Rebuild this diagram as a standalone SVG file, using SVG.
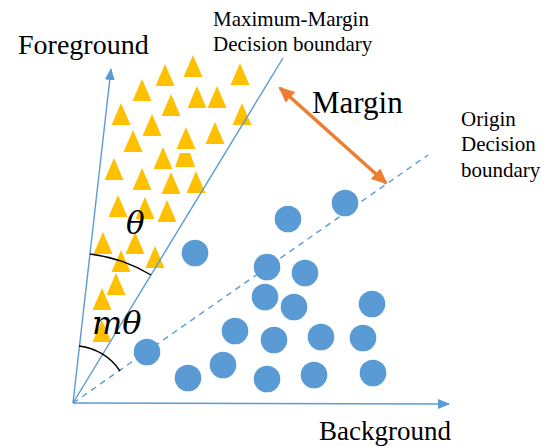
<svg xmlns="http://www.w3.org/2000/svg" width="545" height="447" viewBox="0 0 545 447">
<style>
.t{font-family:"Liberation Serif","Times New Roman",serif;fill:#000}
.ax{stroke:#5B9BD5;stroke-width:1.4;fill:none}
.tri{fill:#FFC000}
.dot{fill:#5B9BD5}
.arc{stroke:#000;stroke-width:1.4;fill:none}
.m{font-family:"DejaVu Serif","Liberation Serif",serif;font-style:italic;fill:#000}
</style>
<defs>
<path id="tr" d="M0,0 L9.5,22 L-9.5,22Z"/>
<marker id="ah" markerWidth="12" markerHeight="10" refX="11" refY="5" orient="auto" markerUnits="userSpaceOnUse"><path d="M0,0 L12,5 L0,10Z" fill="#5B9BD5"/></marker>
<marker id="oh" markerWidth="16" markerHeight="14" refX="14" refY="7" orient="auto-start-reverse" markerUnits="userSpaceOnUse"><path d="M0,0 L16,7 L0,14Z" fill="#ED7D31"/></marker>
</defs>
<rect width="545" height="447" fill="#fff"/>
<g id="triangles" class="tri">
<use href="#tr" x="193" y="55"/><use href="#tr" x="165" y="64"/><use href="#tr" x="240" y="63"/>
<use href="#tr" x="142" y="79"/><use href="#tr" x="197" y="86"/><use href="#tr" x="217" y="86"/>
<use href="#tr" x="171" y="94"/><use href="#tr" x="121" y="103"/><use href="#tr" x="242" y="103"/>
<use href="#tr" x="152" y="114"/><use href="#tr" x="133" y="130"/><use href="#tr" x="186" y="127"/>
<use href="#tr" x="215" y="122"/><use href="#tr" x="163" y="147"/><use href="#tr" x="114" y="158"/>
<use href="#tr" x="142" y="168"/><use href="#tr" x="171" y="172"/><use href="#tr" x="196" y="171"/>
<use href="#tr" x="118" y="195"/><use href="#tr" x="145" y="197"/><use href="#tr" x="167" y="200"/>
<use href="#tr" x="103" y="232"/><use href="#tr" x="135" y="232"/><use href="#tr" x="121" y="250"/>
<use href="#tr" x="155" y="246"/><use href="#tr" x="116" y="273"/><use href="#tr" x="102" y="288"/>
<use href="#tr" x="102" y="320"/>
<polygon points="180,153 190,153 195,167 175,167"/>
</g>
<g id="connectors">
<line class="ax" x1="73" y1="403" x2="111" y2="69" marker-end="url(#ah)"/>
<line class="ax" x1="73" y1="403" x2="449" y2="404" marker-end="url(#ah)"/>
<line class="ax" x1="73" y1="403" x2="283" y2="58"/>
<line class="ax" x1="73" y1="403" x2="428" y2="155" stroke-dasharray="6,5"/>
<line x1="280" y1="88" x2="386" y2="183" stroke="#ED7D31" stroke-width="3.5" marker-start="url(#oh)" marker-end="url(#oh)"/>
<path class="arc" d="M90,254 A150,150 0 0 1 151,275"/>
<path class="arc" d="M79,346 A57,57 0 0 1 120,371"/>
</g>
<g id="circles" class="dot">
<circle cx="345" cy="203" r="13.3"/><circle cx="288" cy="219" r="13.3"/><circle cx="195" cy="253" r="13.3"/>
<circle cx="267" cy="267" r="13.3"/><circle cx="305" cy="273" r="13.3"/><circle cx="265" cy="297" r="13.3"/>
<circle cx="294" cy="307" r="13.3"/><circle cx="372" cy="304" r="13.3"/><circle cx="235" cy="331" r="13.3"/>
<circle cx="274" cy="340" r="13.3"/><circle cx="321" cy="337" r="13.3"/><circle cx="363" cy="338" r="13.3"/>
<circle cx="147" cy="352" r="13.3"/><circle cx="223" cy="365" r="13.3"/><circle cx="188" cy="378" r="13.3"/>
<circle cx="267" cy="379" r="13.3"/><circle cx="314" cy="375" r="13.3"/><circle cx="373" cy="373" r="13.3"/>
</g>
<g id="labels">
<text class="t" x="18" y="54" font-size="28">Foreground</text>
<text class="t" x="319" y="440" font-size="27">Background</text>
<text class="t" x="213" y="26" font-size="21">Maximum-Margin</text>
<text class="t" x="213" y="51" font-size="21">Decision boundary</text>
<text class="t" x="312" y="113" font-size="31">Margin</text>
<text class="t" x="461" y="126" font-size="21">Origin</text>
<text class="t" x="461" y="151" font-size="21">Decision</text>
<text class="t" x="461" y="177" font-size="21">boundary</text>
<text class="m" x="126" y="234" font-size="31">θ</text>
<text class="m" x="92" y="334" font-size="32">mθ</text>
</g>
</svg>
